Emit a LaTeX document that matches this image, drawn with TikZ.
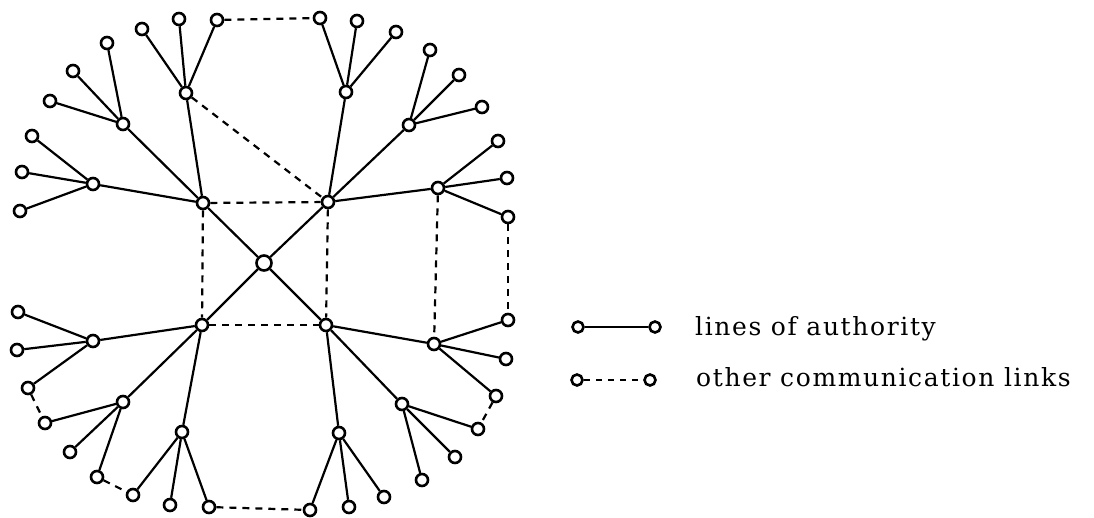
\documentclass[tikz,border=0pt]{standalone}
\usepackage{fontspec}
\setmainfont{DejaVu Serif}[LetterSpace=6.5]
\begin{document}
\begin{tikzpicture}[x=1pt,y=-1pt,
  nd/.style={circle,draw,fill=white,line width=2.6pt,inner sep=0pt,minimum size=12pt},
  ctr/.style={nd,minimum size=15pt},
  auth/.style={line width=2.2pt},
  comm/.style={line width=2.2pt,dash pattern=on 7pt off 6pt},
  lbl/.style={anchor=base west,inner sep=0pt,font=\fontsize{25}{29}\selectfont}]
\useasboundingbox (0,0) rectangle (1094,517);
% centre and level 1
\node[ctr] (c) at (264,263) {};
\node[nd] (tl) at (203,203) {};
\node[nd] (tr) at (328,202) {};
\node[nd] (bl) at (202,325) {};
\node[nd] (br) at (326,325) {};
% hubs
\node[nd] (A) at (186,93) {};
\node[nd] (B) at (123,124) {};
\node[nd] (C) at (93,184) {};
\node[nd] (D) at (346,92) {};
\node[nd] (E) at (409,125) {};
\node[nd] (F) at (438,188) {};
\node[nd] (G) at (93,341) {};
\node[nd] (H) at (123,402) {};
\node[nd] (I) at (182,432) {};
\node[nd] (J) at (434,344) {};
\node[nd] (K) at (402,404) {};
\node[nd] (L) at (339,433) {};
% leaves
\node[nd] (a1) at (142,29) {};
\node[nd] (a2) at (179,19) {};
\node[nd] (a3) at (217,20) {};
\node[nd] (b1) at (107,43) {};
\node[nd] (b2) at (73,71) {};
\node[nd] (b3) at (50,101) {};
\node[nd] (c1) at (32,136) {};
\node[nd] (c2) at (22,172) {};
\node[nd] (c3) at (20,211) {};
\node[nd] (d1) at (320,18) {};
\node[nd] (d2) at (357,21) {};
\node[nd] (d3) at (396,32) {};
\node[nd] (e1) at (430,50) {};
\node[nd] (e2) at (459,75) {};
\node[nd] (e3) at (482,107) {};
\node[nd] (f1) at (498,141) {};
\node[nd] (f2) at (507,178) {};
\node[nd] (f3) at (508,217) {};
\node[nd] (g1) at (18,312) {};
\node[nd] (g2) at (17,350) {};
\node[nd] (g3) at (28,388) {};
\node[nd] (h1) at (45,423) {};
\node[nd] (h2) at (70,452) {};
\node[nd] (h3) at (97,477) {};
\node[nd] (i1) at (133,495) {};
\node[nd] (i2) at (170,505) {};
\node[nd] (i3) at (209,507) {};
\node[nd] (j1) at (508,320) {};
\node[nd] (j2) at (506,359) {};
\node[nd] (j3) at (496,396) {};
\node[nd] (k1) at (478,429) {};
\node[nd] (k2) at (455,457) {};
\node[nd] (k3) at (422,480) {};
\node[nd] (l1) at (310,510) {};
\node[nd] (l2) at (349,507) {};
\node[nd] (l3) at (384,497) {};
% lines of authority
\draw[auth] (c) -- (tl) (c) -- (tr) (c) -- (bl) (c) -- (br);
\draw[auth] (tl) -- (A) (tl) -- (B) (tl) -- (C);
\draw[auth] (tr) -- (D) (tr) -- (E) (tr) -- (F);
\draw[auth] (bl) -- (G) (bl) -- (H) (bl) -- (I);
\draw[auth] (br) -- (J) (br) -- (K) (br) -- (L);
\draw[auth] (A) -- (a1) (A) -- (a2) (A) -- (a3);
\draw[auth] (B) -- (b1) (B) -- (b2) (B) -- (b3);
\draw[auth] (C) -- (c1) (C) -- (c2) (C) -- (c3);
\draw[auth] (D) -- (d1) (D) -- (d2) (D) -- (d3);
\draw[auth] (E) -- (e1) (E) -- (e2) (E) -- (e3);
\draw[auth] (F) -- (f1) (F) -- (f2) (F) -- (f3);
\draw[auth] (G) -- (g1) (G) -- (g2) (G) -- (g3);
\draw[auth] (H) -- (h1) (H) -- (h2) (H) -- (h3);
\draw[auth] (I) -- (i1) (I) -- (i2) (I) -- (i3);
\draw[auth] (J) -- (j1) (J) -- (j2) (J) -- (j3);
\draw[auth] (K) -- (k1) (K) -- (k2) (K) -- (k3);
\draw[auth] (L) -- (l1) (L) -- (l2) (L) -- (l3);
% other communication links
\draw[comm] (a3) -- (d1);
\draw[comm] (A) -- (tr);
\draw[comm] (tl) -- (tr);
\draw[comm] (tl) -- (bl);
\draw[comm] (tr) -- (br);
\draw[comm] (bl) -- (br);
\draw[comm] (F) -- (J);
\draw[comm] (f3) -- (j1);
\draw[comm] (i3) -- (l1);
\draw[comm] (g3) -- (h1);
\draw[comm] (h3) -- (i1);
\draw[comm] (j3) -- (k1);
% legend
\node[nd,minimum size=11pt] (la) at (578,327) {};
\node[nd,minimum size=11pt] (lb) at (655,327) {};
\node[nd,minimum size=11pt] (lc) at (577,380) {};
\node[nd,minimum size=11pt] (ld) at (650,380) {};
\draw[auth] (la) -- (lb);
\draw[auth,dash pattern=on 6pt off 6pt] (lc) -- (ld);
\node[lbl] (t1) at (695,335) {lines of authority};
\node[lbl] (t2) at (696,386) {other communication links};
\end{tikzpicture}
\end{document}
